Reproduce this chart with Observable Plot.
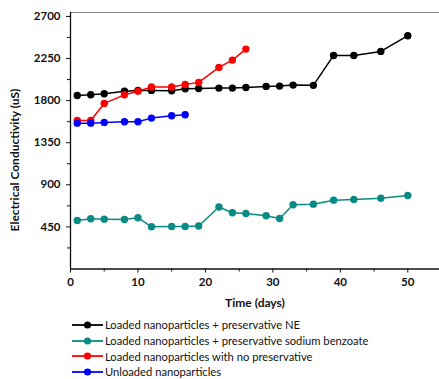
<!DOCTYPE html>
<html>
<head>
<meta charset="utf-8">
<script src="https://cdn.jsdelivr.net/npm/d3@7"></script>
<script src="https://cdn.jsdelivr.net/npm/@observablehq/plot@0.6"></script>
<style>
  body { margin: 0; background: #fff; font-family: Lato, "Open Sans", sans-serif; }
  #legend { position: absolute; left: 72px; top: 317px; font-size: 11.2px; color: #111; }
  .row { display: flex; align-items: center; height: 15.7px; white-space: nowrap; }
  .row svg { margin-right: 2px; }
  #chart { position: absolute; left: 0; top: 0; }
</style>
</head>
<body>
<div id="chart"></div>
<div id="legend"></div>
<script>
const seriesNames = [
  "Loaded nanoparticles + preservative NE",
  "Loaded nanoparticles + preservative sodium benzoate",
  "Loaded nanoparticles with no preservative",
  "Unloaded nanoparticles"
];
const seriesColors = ["#000000", "#0a8a84", "#ff0000", "#0000ff"];

const daysNE = [1,3,5,8,10,12,15,17,19,22,24,26,29,31,33,36,39,42,46,50];
const valuesNE = [1855,1862,1873,1901,1909,1909,1905,1927,1930,1934,1934,1941,1952,1955,1966,1963,2283,2283,2326,2494];

const daysSB = [1,3,5,8,10,12,15,17,19,22,24,26,29,31,33,36,39,42,46,50];
const valuesSB = [519,537,533,529,548,451,455,455,460,663,601,594,569,540,687,693,736,743,757,786];

const daysNoPres = [1,3,5,8,10,12,15,17,19,22,24,26];
const valuesNoPres = [1588,1588,1770,1862,1901,1945,1945,1973,1995,2155,2233,2351];

const daysUnloaded = [1,3,5,8,10,12,15,17];
const valuesUnloaded = [1559,1559,1567,1574,1574,1613,1638,1649];

const yTicks = [450, 900, 1350, 1800, 2250, 2700];
const yMinorTicks = [225, 675, 1125, 1575, 2025, 2475];
const xTicks = [0, 10, 20, 30, 40, 50];
const xMinorTicks = [5, 15, 25, 35, 45];

const xLabel = "Time (days)";
const yLabel = "Electrical Conductivity (uS)";

const allDays = [daysNE, daysSB, daysNoPres, daysUnloaded];
const allValues = [valuesNE, valuesSB, valuesNoPres, valuesUnloaded];
const data = [];
allDays.forEach((ds, i) => ds.forEach((d, j) => data.push({series: seriesNames[i], day: d, value: allValues[i][j]})));

const color = {domain: seriesNames, range: seriesColors};
const fmt = d3.format("d");

const chart = Plot.plot({
  width: 439,
  height: 310,
  marginLeft: 70,
  marginRight: 0,
  marginTop: 12,
  marginBottom: 41.5,
  style: {fontFamily: "Lato, 'Open Sans', sans-serif", fontSize: "11px", color: "#111", background: "#fff"},
  x: {domain: [0, 54.7]},
  y: {domain: [0, 2742]},
  color,
  marks: [
    Plot.ruleY([2742], {stroke: "#888", strokeWidth: 1.2}),
    Plot.axisY({ticks: yMinorTicks, tickSize: 3, tickFormat: () => "", label: null, strokeWidth: 1}),
    Plot.axisY({ticks: yTicks, tickSize: 4, tickPadding: 6, tickFormat: fmt, label: null, fontWeight: "bold", fontSize: 11.5, strokeWidth: 1}),
    Plot.axisX({ticks: xMinorTicks, tickSize: 3, tickFormat: () => "", label: null}),
    Plot.axisX({ticks: xTicks, tickSize: 4, tickPadding: 5, tickFormat: fmt, label: null, fontWeight: "bold", fontSize: 11.5}),
    Plot.ruleX([0], {stroke: "#111", strokeWidth: 1.3}),
    Plot.ruleY([0], {stroke: "#111", strokeWidth: 1.3}),
    Plot.text([xLabel], {frameAnchor: "bottom", dy: 38, fontWeight: "bold", fontSize: 12, fill: "#111"}),
    Plot.line(data, {x: "day", y: "value", z: "series", stroke: "series", strokeWidth: 1.5}),
    Plot.dot(data, {x: "day", y: "value", fill: "series", r: 3.7})
  ]
});
d3.select(chart).append("text")
  .attr("transform", "translate(19,160) rotate(-90)")
  .attr("text-anchor", "middle")
  .attr("font-weight", "bold")
  .attr("font-size", 12)
  .attr("fill", "#111")
  .text(yLabel);
document.getElementById("chart").appendChild(chart);

const legend = document.getElementById("legend");
seriesNames.forEach((name, i) => {
  const row = document.createElement("div");
  row.className = "row";
  row.innerHTML = `<svg width="31" height="10"><line x1="0" x2="31" y1="5" y2="5" stroke="${seriesColors[i]}" stroke-width="1.8"/><circle cx="15.5" cy="5" r="3.6" fill="${seriesColors[i]}"/></svg><span>${name}</span>`;
  legend.appendChild(row);
});
</script>
</body>
</html>
